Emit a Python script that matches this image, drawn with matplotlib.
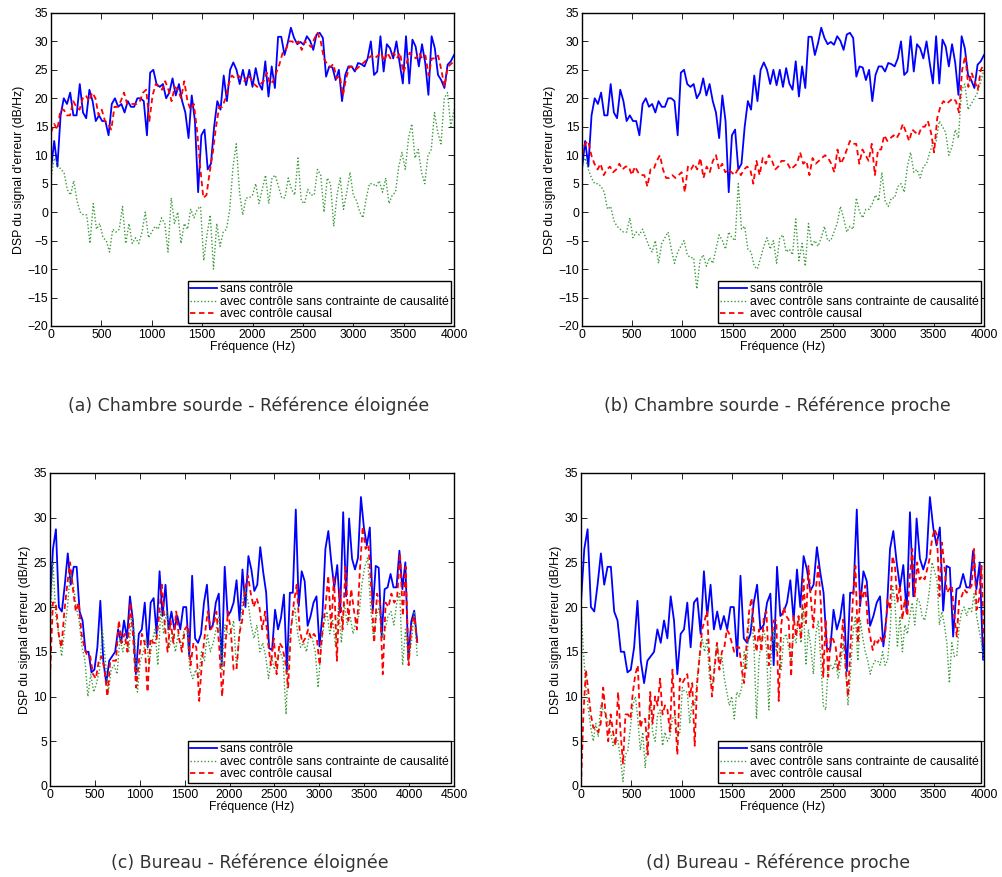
import numpy as np
import matplotlib
matplotlib.use("Agg")
import matplotlib.pyplot as plt

plt.rcParams['font.family'] = ['Liberation Sans', 'DejaVu Sans']

## Chambre sourde : sans controle (same curve in (a) and (b))
sans_ctrl_chambre = [
    7.5, 12.5, 8, 17, 20, 19, 21, 17, 17, 22.5, 17.5, 16.5, 21.5, 19.5, 16, 17, 16, 16, 13.5, 19,
    20, 18.5, 19, 17.5, 19.5, 18.5, 18.5, 20, 20, 19.5, 13.5, 24.5, 25, 22.5, 22, 22.5, 20, 21, 23.5, 20.5,
    22.5, 19.5, 17.5, 13, 20.5, 16, 3.5, 13.5, 14.5, 7.5, 8.5, 15, 19.5, 18, 24, 19.5, 25, 26.3, 25, 22.5,
    25, 22.3, 25, 22, 25.3, 22.6, 21.5, 26.5, 20.3, 25.6, 21.8, 30.8, 30.8, 27.6, 29.7, 32.4, 30.6, 29.5, 29.9, 29.4,
    30.9, 30.1, 28.5, 31.2, 31.5, 30.6, 23.8, 25.6, 25.4, 23.2, 25, 19.5, 24.1, 25.6, 25.6, 24.7, 26.2, 26, 25.6, 27,
    30, 24.1, 24.7, 30.9, 24.7, 29.5, 28.8, 27, 30, 26.2, 22.6, 30.9, 22.6, 30.3, 29.1, 25.6, 29.5, 26.2, 20.6, 30.9,
    28.8, 24.1, 23.2, 21.8, 25.9, 26.5, 27.6]

## (a) reference eloignee
noncausal_a = [
    6, 9.5, 8.5, 7.5, 7, 4, 3, 5.5, 2, 0, -0.5, -0.5, -5.5, 1.5, -3, -2, -4.5, -5, -7, -3,
    -3.5, -3, 1, -5.5, -2, -5.5, -4.5, -5.5, -3.5, 0, -4.5, -3.5, -2.5, -3, -1, -2, -7, 2.5, -2, 0,
    -5.5, -2, -3, 0.5, -1, 0.5, 1, -8.5, -4, -0.5, -10, -2, -6, -3.5, -3, 0.5, 8, 12, 3.5, -0.5,
    2.5, 2.5, 3, 5, 1.5, 4, 6.5, 1.5, 6, 6.5, 4.5, 2.5, 2.5, 6, 4, 3, 9.5, 2, 1.5, 4,
    3, 3, 7.5, 6.5, 0, 6, 5, -2.5, 3, 6, 0.5, 3.5, 7, 3, 2, 0, -1, 2.5, 5, 5,
    4.5, 5.5, 3.5, 6, 1.5, 3, 3.5, 8, 10.5, 7.5, 13, 15.5, 9.5, 11, 7, 5, 10, 11, 17.5, 14,
    12, 20, 21, 15, 18]
causal_a = [
    14, 15.5, 14.5, 18, 18, 17, 17, 19.5, 18.5, 18, 20, 20.5, 19.5, 21, 20, 17, 18, 16, 15.5, 14.5,
    18.5, 18.5, 19.5, 21, 19, 19, 19, 19, 19.5, 21, 21.5, 16, 20.5, 22.5, 22, 21.5, 23, 21.5, 19.5, 22,
    21.5, 20, 23, 19.5, 18, 19, 14.5, 8, 2.5, 3, 7, 10.5, 15, 18.5, 18.5, 20, 22.5, 24, 23.5, 24,
    23.5, 23, 24, 23.5, 22.5, 22, 22.5, 23, 24.5, 22.5, 23, 24.5, 26, 28, 28.5, 30, 30, 29.5, 30, 28.5,
    30, 29.5, 29, 30.5, 31.5, 30, 27, 26, 25.5, 26, 23.5, 24, 20.5, 23.5, 25.5, 25.5, 25, 25.5, 26, 26.5,
    27, 27.5, 27, 27.5, 28, 26.5, 28, 27, 28, 27, 28, 24.5, 26, 28, 27.5, 27, 28, 27, 27.5, 24,
    27, 27, 27.5, 25, 22, 25.5, 26, 26.5]

## (b) reference proche
noncausal_b = [
    8, 9.5, 7.5, 6, 5, 5, 4.5, 3.5, 0.5, 1, -1.5, -2.5, -3, -3.5, -3.5, -1, -4.5, -3.5, -4, -3,
    -4.5, -6, -7, -5, -9, -5.5, -4.5, -3.5, -6.5, -9, -7, -6, -5, -7.5, -8, -8, -13.5, -8.5, -7.5, -9.5,
    -8, -9, -6.5, -4, -5, -6.5, -3.5, -4.5, -5, 5, -3, -2.5, -6.5, -7, -9.5, -10, -8, -6, -4.5, -6.5,
    -5, -9, -4.5, -4, -7, -6.5, -7.5, -1.2, -8.5, -5.5, -9.5, -2, -6, -5, -6, -4.5, -2.5, -5, -5, -3.5,
    -2, 1, -1, -3.5, -2.5, -3, 2.5, 0, -1, 0.5, 0.5, 1.5, 3, 2, 7, 2, 1, 2.5, 2.5, 4.5,
    5, 3.5, 8, 10.5, 7, 7.5, 6, 8, 8.5, 10.5, 12, 12.5, 16, 15, 14, 10, 11.5, 14.5, 13, 21.5,
    22.5, 18, 19, 20, 21, 23, 25]
causal_b = [
    10, 12, 12.5, 10, 8.5, 7.5, 8.5, 6.5, 7.5, 8, 7, 7.5, 8.5, 7.5, 8, 8, 6.5, 8, 7, 6.5,
    6.5, 4.5, 7.5, 7.5, 9, 10, 7.5, 6, 6, 6.5, 6, 6.5, 7, 3.5, 8, 7.5, 8.5, 7.5, 9.5, 6,
    8, 7, 9, 10, 7.5, 8.5, 7, 7.5, 7, 6.5, 7.5, 6.5, 7.5, 8, 7.5, 5, 9, 6.5, 9.5, 8.5,
    10, 9, 7.5, 8, 9, 9, 8.5, 7.5, 8, 8.5, 10.5, 8.5, 9, 6.5, 9.5, 8.5, 9, 9.5, 10, 9.5,
    8.5, 7, 11, 8.5, 9.5, 11, 12.5, 12, 12, 8.5, 11, 10, 9, 12, 6.5, 11, 11, 13.5, 12.5, 13,
    13.5, 13, 14, 15.5, 14, 12.5, 14.5, 14, 13.5, 15, 15, 16, 14, 10.5, 16.5, 18.5, 19.5, 19, 19.5, 20,
    19.5, 17.5, 25, 27.5, 22, 24.5, 23, 21.5, 25, 26]

## Bureau : sans controle (same curve in (c) and (d))
sans_ctrl_bureau = [
    20.5, 26.5, 28.7, 20, 19.5, 22.5, 26, 22.5, 24.5, 24.5, 19.5, 18.5, 15, 15, 12.7, 13, 15.5, 20.7, 14, 11.5,
    14, 14.5, 15, 17.5, 16, 18.5, 16.5, 21.2, 18.5, 12.5, 17, 17.5, 20.5, 15.5, 20.5, 21, 17, 24, 19, 22.5,
    17.5, 19.5, 17.5, 19, 17.5, 20, 20, 14.5, 23.5, 16.5, 16, 17, 20.5, 22.5, 17.5, 18, 20.5, 21.5, 13.5, 24.5,
    19, 19.5, 20.5, 23, 18.5, 24.2, 20, 25.7, 24.2, 21.8, 22.5, 26.7, 23.9, 21.6, 15.4, 15.2, 19.7, 17.5, 18.8, 21.4,
    12.8, 21.6, 21.6, 30.9, 20.1, 24, 22.9, 17.9, 19, 20.5, 21.2, 15.6, 19.2, 26.5, 28.5, 25, 22.2, 24.7, 19.4, 30.6,
    21.2, 29.9, 25.4, 24.2, 25.5, 32.3, 28.9, 26.9, 28.9, 19.6, 24.6, 24.4, 16.7, 22, 22.2, 23.7, 22.2, 22.2, 26.3, 22,
    25, 14.1, 18.4, 19.6, 16.1]

## (c) reference eloignee
noncausal_c = [
    17, 25, 19, 17, 14.5, 17.5, 20, 24, 22.5, 20, 18.5, 15.5, 14, 10, 12.5, 10.5, 11.5, 13, 17.5, 14,
    10.5, 13, 13.5, 12.5, 16.5, 15, 16.5, 15, 19, 17, 10.5, 14, 15, 16.5, 13.5, 16, 17.5, 13.5, 19.5, 17,
    19.5, 15.5, 17, 15, 17, 15.5, 17.5, 17.5, 13, 12, 13, 12, 15, 14, 17, 15, 16, 17.5, 19, 13,
    18, 17, 17, 18.5, 13, 17, 20.5, 22, 20.5, 18, 16.5, 18, 15, 16, 14.5, 12, 14.5, 13, 14.5, 15,
    14, 8, 16, 18.5, 20, 17, 15.5, 16, 15, 17, 16.5, 15, 11, 15.5, 18, 19.5, 17, 18.5, 15.5, 20,
    16, 20.5, 18, 19, 17, 18.5, 19, 22.5, 24.5, 25.5, 20, 16.5, 19, 20, 16.5, 17.5, 19, 19.5, 18, 20.5,
    21.5, 13.5, 17.5, 14, 16, 19.5, 14.5]
causal_c = [
    12, 20.5, 20.5, 17, 15.5, 19.5, 22.5, 25, 22, 19.5, 20.5, 17, 15.5, 14.5, 14.5, 12.5, 12, 14, 14.5, 13,
    10, 14, 14, 14, 18.5, 16, 17, 15, 20.5, 16.5, 11, 14, 17, 16, 10.5, 16.5, 16, 16, 19, 22.5,
    18, 15, 18.5, 16, 19.5, 16.5, 15, 17.5, 18, 13.5, 16, 15.5, 9.5, 14, 17, 19.5, 17.5, 18, 19.5, 15.5,
    10, 15, 19.5, 17.5, 13, 13, 17, 18.5, 22, 23.5, 21.5, 20, 21, 20, 17.5, 19.5, 16, 13.5, 16.5, 12.5,
    16, 15.5, 14, 11, 17.5, 20.5, 22.5, 17.5, 16, 16.5, 17.5, 16.5, 17, 16.5, 13.5, 17.5, 20, 23.5, 17.5, 23.5,
    14, 22, 17.5, 24.5, 18.5, 22, 19.5, 17.5, 24, 29, 26.5, 27, 22, 16, 21.5, 20.5, 12.5, 20.5, 20, 21.5,
    20.5, 21, 26, 19, 24.5, 13.5, 18, 19, 16]

## (d) reference proche
noncausal_d = [
    20, 15, 11, 8.5, 6.5, 5, 7, 5.5, 9, 8.5, 8, 7, 6, 4.5, 5.5, 5, 3, 0.5, 3.5, 4,
    6.5, 9, 10, 7.5, 4, 6, 2, 6, 9.5, 6, 5, 8, 8.5, 4.5, 6, 5, 5.5, 7.5, 8, 5.5,
    6, 11, 10.5, 10.5, 7, 9.5, 9, 12, 14.5, 16.5, 15, 16.5, 12, 11, 13.5, 16, 14, 14.5, 12, 10.5,
    9, 10, 7.5, 10.5, 10, 11, 15, 13, 18.5, 19, 15.5, 7.5, 14, 16.5, 17.5, 15.5, 8.5, 15, 17.5, 15,
    16, 13, 16.5, 17, 15.5, 14, 17, 16, 19, 16, 20, 13.5, 17.5, 15.5, 12.5, 17, 18.5, 14, 9, 8.5,
    13.5, 13.5, 13, 14, 12, 13.5, 16, 13.5, 9, 12.5, 17, 19, 14, 18.5, 16.5, 15, 14, 12.5, 13.5, 14,
    14, 13.5, 15, 13.5, 14, 17, 22.5, 20.5, 15.5, 19, 15, 18, 17, 19, 20.5, 18, 21, 20.5, 19, 18.5,
    20, 22, 25, 24, 23, 18, 19.5, 18, 16, 11.5, 16, 14.5, 14.5, 18, 19.5, 20, 19, 20, 19.5, 21.5,
    19, 17.5, 16, 14]
causal_d = [
    0, 8, 13, 10.5, 8, 6.5, 6.5, 6, 7, 11, 8, 5, 8, 6, 4.5, 10.5, 6, 2.5, 8, 8,
    7.5, 10.5, 12.5, 13.5, 6.5, 7.5, 7.5, 3.5, 10.5, 7, 10, 9, 12, 8, 9, 8.5, 6, 13, 8, 3.5,
    12, 11.5, 12, 12.5, 10, 11.5, 4.5, 11.5, 14.5, 17.5, 18.5, 19.5, 14, 10, 13, 16, 13, 15, 15.5, 17.5,
    17, 16, 15, 15.5, 15.5, 13, 11.5, 16, 19.5, 21, 17.5, 15, 17.5, 15, 19, 19.5, 13.5, 16.5, 18.5, 18.5,
    9.5, 18, 20, 19, 18.6, 12.2, 19, 16.7, 19, 16.4, 23.1, 18.2, 24.6, 20.9, 17.7, 22, 24.6, 20.5, 12.2, 18.6,
    12.2, 16.7, 16.4, 15.6, 13, 14.9, 18.6, 13.4, 10, 15.6, 20.9, 24.6, 16, 22, 20.9, 22.4, 18.2, 16.7, 15.2, 16.4,
    16, 16.7, 16, 16.7, 20.9, 19.7, 25.7, 24.6, 20.5, 22.4, 18.6, 20.9, 19, 23.5, 26.5, 21.2, 25, 23.1, 23.5, 23.1,
    24.2, 25.4, 27.6, 28.7, 28, 21.2, 27.2, 24.6, 21.6, 22, 22.4, 19, 16.7, 20.9, 21.2, 22, 21.6, 22, 22.4, 26.5,
    19.7, 20.9, 24.6, 15.6]

legend_labels = ['sans contrôle',
                 'avec contrôle sans contrainte de causalité',
                 'avec contrôle causal']
captions = ['(a) Chambre sourde - Référence éloignée',
            '(b) Chambre sourde - Référence proche',
            '(c) Bureau - Référence éloignée',
            '(d) Bureau - Référence proche']

BLUE = '#0000ff'
GREEN = '#3a9a3a'
RED = '#ff0000'


def freq(vals, fmax):
    ## uniform frequency bins of the PSD estimate
    return np.linspace(0, fmax, len(vals))


fig = plt.figure(figsize=(10.02, 8.77), dpi=100)

panels = [
    # rect, (sans, fmax), (noncausal, fmax), (causal, fmax), xlim, xticks, ylim, yticks
    ([0.0509, 0.6283, 0.4022, 0.357], (sans_ctrl_chambre, 4000), (noncausal_a, 4000), (causal_a, 4000),
     (0, 4000), np.arange(0, 4001, 500), (-20, 35), np.arange(-20, 36, 5)),
    ([0.5808, 0.6283, 0.4012, 0.357], (sans_ctrl_chambre, 4000), (noncausal_b, 4000), (causal_b, 4000),
     (0, 4000), np.arange(0, 4001, 500), (-20, 35), np.arange(-20, 36, 5)),
    ([0.0499, 0.1038, 0.4032, 0.357], (sans_ctrl_bureau, 4090), (noncausal_c, 4090), (causal_c, 4090),
     (0, 4500), np.arange(0, 4501, 500), (0, 35), np.arange(0, 36, 5)),
    ([0.5798, 0.1038, 0.4022, 0.357], (sans_ctrl_bureau, 4090), (noncausal_d, 4000), (causal_d, 4000),
     (0, 4000), np.arange(0, 4001, 500), (0, 35), np.arange(0, 36, 5)),
]

for i, (rect, s, nc, c, xl, xt, yl, yt) in enumerate(panels):
    ax = fig.add_axes(rect)
    ax.plot(freq(*s), s[0], color=BLUE, lw=1.3, label=legend_labels[0])
    ax.plot(freq(*nc), nc[0], color=GREEN, lw=1.0, ls=(0, (1, 1.5)), label=legend_labels[1])
    ax.plot(freq(*c), c[0], color=RED, lw=1.3, ls=(0, (3, 2)), label=legend_labels[2])
    ax.set_xlim(*xl)
    ax.set_ylim(*yl)
    ax.set_xticks(xt)
    ax.set_yticks(yt)
    ax.tick_params(direction='in', top=True, right=True, labelsize=8.8, length=4, width=0.6, pad=2)
    for sp in ax.spines.values():
        sp.set_linewidth(1.0)
    ax.set_xlabel('Fréquence (Hz)', fontsize=8.8, labelpad=0)
    ax.set_ylabel("DSP du signal d'erreur (dB/Hz)", fontsize=8.8, labelpad=2)
    leg = ax.legend(loc='lower right', fontsize=8.8, handlelength=2.2, handletextpad=0.2,
                    borderpad=0.2, labelspacing=0.05, borderaxespad=0.25, fancybox=False,
                    framealpha=1)
    leg.get_frame().set_edgecolor('black')
    leg.get_frame().set_linewidth(1.0)

cap_pos = [(0.248, 0.527), (0.776, 0.527), (0.249, 0.006), (0.777, 0.006)]
for (cx, cy), txt in zip(cap_pos, captions):
    fig.text(cx, cy, txt, ha='center', va='bottom', fontsize=12.5, color='#333333',
             family='DejaVu Sans')

fig.savefig('out.png', dpi=100)
